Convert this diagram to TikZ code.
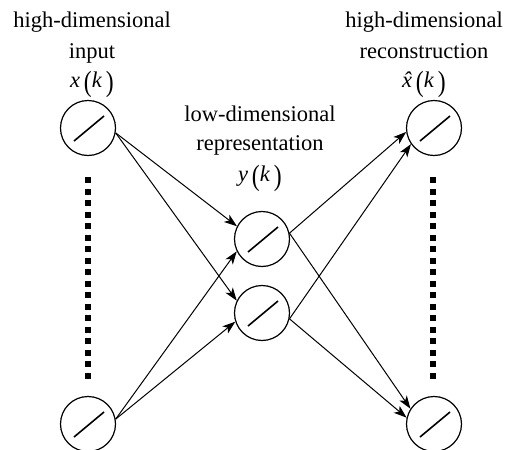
\documentclass[tikz,border=0pt]{standalone}
\usepackage{fontspec}
\setmainfont{Liberation Serif}
\newfontfamily\tnr{Liberation Serif}
\usepackage{graphicx}
\usetikzlibrary{arrows.meta}
\newcommand{\myparL}{\raisebox{-4.5pt}{\scalebox{1.05}[1.3]{(}}}
\newcommand{\myparR}{\raisebox{-4.5pt}{\scalebox{1.05}[1.3]{)}}}
\newcommand{\myxhat}{\textit{x}\llap{\textit{ˆ}\hspace{0.5pt}}}
\begin{document}
\begin{tikzpicture}[x=1pt,y=-1pt,
  neuron/.style={circle, draw, line width=1.2pt, minimum size=55pt, inner sep=0pt,
    path picture={\draw[line width=1.6pt] ([shift={(-14pt,-13pt)}]path picture bounding box.center) -- ([shift={(16pt,12pt)}]path picture bounding box.center);}},
  lbl/.style={anchor=base, inner sep=0pt, font=\tnr\fontsize{22.5}{27}\selectfont},
  conn/.style={line width=1pt, -{Stealth[length=13pt,width=9pt,inset=3.5pt]}},
  dotsq/.style={fill=black}
]
\useasboundingbox (0,0) rectangle (515,450);

% neurons
\node[neuron] (lt) at (88,128) {};
\node[neuron] (lb) at (88,424) {};
\node[neuron] (mt) at (262,239) {};
\node[neuron] (mb) at (262,313) {};
\node[neuron] (rt) at (434,128) {};
\node[neuron] (rb) at (434,424) {};

% labels
\node[lbl] (l1) at (92,27) {high-dimensional};
\node[lbl] (l2) at (92,58) {input};
\node[lbl] (l3) at (92,87) {\textit{x}\,\myparL\textit{k}\,\myparR};

\node[lbl] (m1) at (260,121) {low-dimensional};
\node[lbl] (m2) at (260,150) {representation};
\node[lbl] (m3) at (260,181) {\textit{y}\,\myparL\textit{k}\,\myparR};

\node[lbl] (r1) at (424,27) {high-dimensional};
\node[lbl] (r2) at (424,58) {reconstruction};
\node[lbl] (r3) at (424,87) {\myxhat\,\myparL\textit{k}\,\myparR};

% dotted columns
\foreach \i in {0,...,17} {
  \fill[dotsq] (85,177+\i*11.5) rectangle +(6,6);
  \fill[dotsq] (430,177+\i*11.5) rectangle +(6,6);
}

% connectors
\draw[conn] (lt.-10) -- (mt.153);
\draw[conn] (lt.-10) -- (mb.154);
\draw[conn] (lb.10) -- (mt.206);
\draw[conn] (lb.10) -- (mb.198);
\draw[conn] (mt.12) -- (rt.188);
\draw[conn] (mt.12) -- (rb.147);
\draw[conn] (mb.-12) -- (rt.215);
\draw[conn] (mb.-12) -- (rb.167);
\end{tikzpicture}
\end{document}
